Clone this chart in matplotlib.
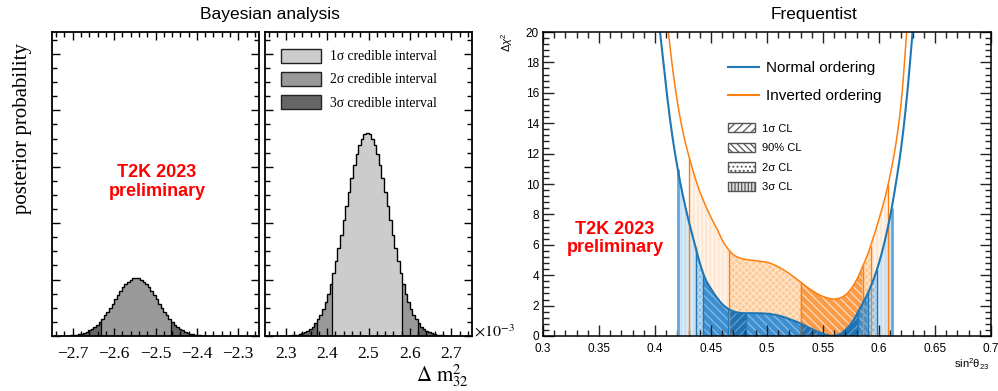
import numpy as np
import matplotlib
matplotlib.use("Agg")
import matplotlib.pyplot as plt
from matplotlib.patches import Patch
from matplotlib.lines import Line2D
from matplotlib.ticker import MultipleLocator, FuncFormatter

plt.rcParams['hatch.linewidth'] = 0.9
plt.rcParams['mathtext.fontset'] = 'custom'
plt.rcParams['mathtext.rm'] = 'Liberation Sans'
plt.rcParams['mathtext.it'] = 'Liberation Sans:italic'
plt.rcParams['mathtext.bf'] = 'Liberation Sans:bold'

SERIF = 'Liberation Serif'
SANS = 'Liberation Sans'

# ---------------- Bayesian posterior of dm2_32 (x1e-3 eV^2) ----------------
BIN_WIDTH = 0.00625
IO_RANGE = (-2.75, -2.25)
NO_RANGE = (2.25, 2.75)

# posterior per bin (arbitrary units x1e-3), inverted ordering
IO_FIRST_BIN = 4
IO_POSTERIOR = [0.03, 0.05, 0.08, 0.11, 0.16, 0.23, 0.31, 0.43, 0.57, 0.76,
                0.99, 1.28, 1.62, 2.03, 2.50, 3.04, 3.64, 4.30, 5.00, 5.74,
                6.49, 7.23, 7.94, 8.60, 9.18, 9.65, 10.01, 10.23, 10.30,
                10.23, 10.01, 9.65, 9.18, 8.60, 7.94, 7.23, 6.49, 5.74, 5.00,
                4.30, 3.64, 3.04, 2.50, 2.03, 1.62, 1.28, 0.99, 0.76, 0.57,
                0.43, 0.31, 0.23, 0.16, 0.11, 0.08, 0.05, 0.03]
# normal ordering
NO_FIRST_BIN = 9
NO_POSTERIOR = [0.07, 0.10, 0.15, 0.23, 0.33, 0.47, 0.66, 0.91, 1.24, 1.68,
                2.23, 2.93, 3.78, 4.83, 6.07, 7.53, 9.21, 11.12, 13.23, 15.52,
                17.96, 20.50, 23.07, 25.61, 28.03, 30.26, 32.21, 33.82, 35.01,
                35.75, 36.00,
                35.75, 35.01, 33.82, 32.21, 30.26, 28.03, 25.61, 23.07, 20.50,
                17.96, 15.52, 13.23, 11.12, 9.21, 7.53, 6.07, 4.83, 3.78, 2.93,
                2.23, 1.68, 1.24, 0.91, 0.66, 0.47, 0.33, 0.23, 0.15, 0.10, 0.07]

NO_1SIGMA = (2.415, 2.583)
NO_2SIGMA = (2.378, 2.618)
IO_1SIGMA = None
IO_2SIGMA = (-2.629, -2.463)

CRED_LABELS = ['1σ credible interval', '2σ credible interval', '3σ credible interval']
GREYS = {1: '#cccccc', 2: '#999999', 3: '#666666'}

# ---------------- Frequentist delta chi2 vs sin2(theta23) ----------------
NO_S2 = [0.4045, 0.410, 0.415, 0.420, 0.425, 0.430, 0.435, 0.440, 0.445, 0.450,
         0.455, 0.460, 0.465, 0.470, 0.475, 0.480, 0.490, 0.500, 0.510, 0.520,
         0.530, 0.540, 0.550, 0.558, 0.565, 0.570, 0.575, 0.580, 0.585, 0.590,
         0.595, 0.600, 0.605, 0.610, 0.615, 0.620, 0.625, 0.630]
NO_DCHI2 = [20.0, 16.3, 13.4, 11.1, 9.2, 7.6, 6.2, 4.8, 3.75, 3.1,
            2.55, 2.1, 1.8, 1.62, 1.53, 1.50, 1.50, 1.47, 1.35, 1.12,
            0.82, 0.45, 0.15, 0.0, 0.12, 0.4, 0.8, 1.4, 2.1, 2.8,
            3.7, 4.8, 6.2, 7.9, 10.0, 12.5, 15.8, 20.0]
IO_S2 = [0.4119, 0.415, 0.420, 0.425, 0.430, 0.435, 0.440, 0.445, 0.450, 0.455,
         0.460, 0.465, 0.470, 0.475, 0.480, 0.490, 0.500, 0.510, 0.520, 0.530,
         0.540, 0.550, 0.560, 0.565, 0.570, 0.575, 0.580, 0.585, 0.590, 0.595,
         0.600, 0.605, 0.610, 0.615, 0.620, 0.6247]
IO_DCHI2 = [20.0, 18.0, 15.4, 13.4, 11.9, 10.6, 9.5, 8.6, 7.8, 7.1,
            6.3, 5.75, 5.35, 5.15, 5.05, 4.95, 4.85, 4.55, 4.1, 3.55,
            3.0, 2.6, 2.43, 2.5, 2.7, 3.1, 3.7, 4.5, 5.4, 6.5,
            7.7, 9.0, 10.6, 12.6, 15.5, 20.0]

# confidence intervals: boundaries and the level of each band between them
NO_BOUNDS = [0.4203, 0.4363, 0.4431, 0.4655, 0.4815, 0.5300, 0.5815, 0.5900, 0.5980, 0.6113]
NO_LEVELS = ['3s', '2s', '90', '1s', '90', '1s', '90', '2s', '3s']
IO_BOUNDS = [0.4306, 0.4661, 0.5300, 0.5855, 0.5926, 0.6083]
IO_LEVELS = ['3s', '2s', '90', '2s', '3s']

CL_LABELS = ['1σ CL', '90% CL', '2σ CL', '3σ CL']

NO_COLOR = '#1f77b4'
IO_COLOR = '#ff7f0e'
NO_STYLE = {'3s': ('#d7e8f6', '#c2dcf1', '||||'),
            '2s': ('#93c2e8', '#c4dff3', 'xxxxx'),
            '90': ('#3d8fd1', '#86bbe5', '\\\\\\\\'),
            '1s': ('#2272b2', '#5f9fd2', '////')}
IO_STYLE = {'3s': ('#fff2e6', '#fde3cb', '||||'),
            '2s': ('#fdca97', '#fee6cd', 'xxxxx'),
            '90': ('#fb9b47', '#fddcbf', '\\\\\\\\')}
LEGEND_STYLE = {'1σ CL': ('white', '////'), '90% CL': ('white', '\\\\\\\\\\'),
                '2σ CL': ('white', '....'), '3σ CL': ('#dddddd', '|||||')}


def smooth_curve(xp, yp, x):
    """Monotone cubic (Fritsch-Carlson) curve through the points."""
    xp = np.asarray(xp, float)
    yp = np.asarray(yp, float)
    h = np.diff(xp)
    d = np.diff(yp) / h
    m = np.zeros_like(yp)
    m[0], m[-1] = d[0], d[-1]
    for i in range(1, len(xp) - 1):
        if d[i - 1] * d[i] <= 0:
            m[i] = 0.0
        else:
            w1 = 2 * h[i] + h[i - 1]
            w2 = h[i] + 2 * h[i - 1]
            m[i] = (w1 + w2) / (w1 / d[i - 1] + w2 / d[i])
    idx = np.clip(np.searchsorted(xp, x) - 1, 0, len(h) - 1)
    t = (x - xp[idx]) / h[idx]
    h00 = 2 * t**3 - 3 * t**2 + 1
    h10 = t**3 - 2 * t**2 + t
    h01 = -2 * t**3 + 3 * t**2
    h11 = t**3 - t**2
    return (h00 * yp[idx] + h10 * h[idx] * m[idx]
            + h01 * yp[idx + 1] + h11 * h[idx] * m[idx + 1])


def draw_posterior(ax, lo, first, vals, s1, s2):
    vals = np.asarray(vals, float)
    edges = lo + BIN_WIDTH * np.arange(first, first + len(vals) + 1)
    centers = 0.5 * (edges[:-1] + edges[1:])
    lev = np.full(len(vals), 3)
    if s2 is not None:
        lev[(centers > s2[0]) & (centers < s2[1])] = 2
    if s1 is not None:
        lev[(centers > s1[0]) & (centers < s1[1])] = 1
    start = 0
    for i in range(1, len(vals) + 1):
        if i == len(vals) or lev[i] != lev[start]:
            ax.stairs(vals[start:i], edges[start:i + 1], fill=True,
                      color=GREYS[lev[start]], linewidth=0)
            if i < len(vals):
                ax.vlines(edges[i], 0, min(vals[i - 1], vals[i]),
                          color='black', lw=0.9)
            start = i
    ax.stairs(vals, edges, color='black', lw=1.0)


fig = plt.figure(figsize=(9.98, 3.91), dpi=100)
W, H = 998.0, 391.0


def axes_px(x0, y0, x1, y1):
    return fig.add_axes([x0 / W, 1 - y1 / H, (x1 - x0) / W, (y1 - y0) / H])


ax_io = axes_px(52, 32, 259, 336)
ax_no = axes_px(265, 32, 472, 336)
ax_fq = axes_px(543, 32, 991, 336)

draw_posterior(ax_io, IO_RANGE[0], IO_FIRST_BIN, IO_POSTERIOR, IO_1SIGMA, IO_2SIGMA)
draw_posterior(ax_no, NO_RANGE[0], NO_FIRST_BIN, NO_POSTERIOR, NO_1SIGMA, NO_2SIGMA)

for ax, rng in ((ax_io, IO_RANGE), (ax_no, NO_RANGE)):
    ax.set_xlim(*rng)
    ax.set_ylim(0, 53.9)
    ax.xaxis.set_major_locator(MultipleLocator(0.1))
    ax.xaxis.set_minor_locator(MultipleLocator(0.02))
    ax.yaxis.set_major_locator(MultipleLocator(10))
    ax.yaxis.set_minor_locator(MultipleLocator(2.5))
    ax.xaxis.set_major_formatter(
        FuncFormatter(lambda v, p: ('%g' % round(v, 2)).replace('-', '\u2212')))
    ax.tick_params(which='both', direction='in', top=True, right=True,
                   labelleft=False, width=1.0, color='black')
    ax.tick_params(which='major', length=6)
    ax.tick_params(which='minor', length=3.5)
    ax.tick_params(axis='x', which='major', pad=7, labelsize=12.5,
                   labelfontfamily=SERIF)
    for sp in ax.spines.values():
        sp.set_linewidth(1.3)

handles = [Patch(facecolor=GREYS[k], edgecolor='#222222', linewidth=1.0) for k in (1, 2, 3)]
ax_no.legend(handles, CRED_LABELS, loc='upper left', bbox_to_anchor=(0.075, 0.944),
             frameon=False, borderpad=0, borderaxespad=0, handlelength=3.0,
             handleheight=1.15, handletextpad=0.6, labelspacing=0.64,
             prop={'family': SERIF, 'size': 9.8})

fig.text(23 / W, 1 - 128 / H, 'posterior probability', rotation=90, ha='center',
         va='center', family=SERIF, fontsize=15)
fig.text(270 / W, 1 - 15 / H, 'Bayesian analysis', ha='center', va='center',
         family=SANS, fontsize=12.5)
fig.text(442 / W, 1 - 376 / H, r'$\Delta\ \mathrm{m}^{2}_{32}$', ha='center',
         va='center', fontsize=15, math_fontfamily='stix')
fig.text(474 / W, 1 - 331 / H, r'$\times10^{-3}$', ha='left', va='center',
         fontsize=11.5, math_fontfamily='stix')
for txt, yy in (('T2K 2023', 173), ('preliminary', 192)):
    fig.text(157 / W, 1 - yy / H, txt, ha='center', va='center', family=SANS,
             fontweight='bold', fontsize=13, color='#ff0000')

# ---------------- frequentist panel ----------------
for s2, chi, bounds, levels, style, color in (
        (IO_S2, IO_DCHI2, IO_BOUNDS, IO_LEVELS, IO_STYLE, IO_COLOR),
        (NO_S2, NO_DCHI2, NO_BOUNDS, NO_LEVELS, NO_STYLE, NO_COLOR)):
    for a, b, lev in zip(bounds[:-1], bounds[1:], levels):
        xs = np.linspace(a, b, 200)
        face, hcol, hatch = style[lev]
        ax_fq.fill_between(xs, 0, smooth_curve(s2, chi, xs), facecolor=face,
                           edgecolor=hcol, hatch=hatch, linewidth=0)
    for j, xb in enumerate(bounds):
        top = float(smooth_curve(s2, chi, np.array([xb]))[0])
        outer = j in (0, len(bounds) - 1)
        if color == NO_COLOR:
            ax_fq.vlines(xb, 0, top, color='#5fa8e2' if outer else NO_COLOR,
                         lw=2.0 if outer else 1.0)
        else:
            ax_fq.vlines(xb, 0, top, color=IO_COLOR, lw=1.0)

xx_io = np.linspace(IO_S2[0], IO_S2[-1], 2000)
xx_no = np.linspace(NO_S2[0], NO_S2[-1], 2000)
ax_fq.plot(xx_io, smooth_curve(IO_S2, IO_DCHI2, xx_io), color=IO_COLOR, lw=1.1)
ax_fq.plot(xx_no, smooth_curve(NO_S2, NO_DCHI2, xx_no), color=NO_COLOR, lw=1.5)

ax_fq.set_xlim(0.3, 0.7)
ax_fq.set_ylim(0, 20)
ax_fq.xaxis.set_major_locator(MultipleLocator(0.05))
ax_fq.xaxis.set_minor_locator(MultipleLocator(0.01))
ax_fq.yaxis.set_major_locator(MultipleLocator(2))
ax_fq.yaxis.set_minor_locator(MultipleLocator(0.4))
ax_fq.xaxis.set_major_formatter(FuncFormatter(lambda v, p: '%g' % round(v, 2)))
ax_fq.tick_params(which='both', direction='in', top=True, right=True,
                  width=1.0, color='#222222', labelsize=8.5,
                  labelfontfamily=SANS)
ax_fq.tick_params(axis='y', which='major', pad=3)
ax_fq.tick_params(axis='x', which='major', pad=5)
ax_fq.tick_params(which='major', length=8)
ax_fq.tick_params(which='minor', length=4)
for sp in ax_fq.spines.values():
    sp.set_linewidth(1.1)

leg1 = ax_fq.legend([Line2D([], [], color=NO_COLOR, lw=1.5),
                     Line2D([], [], color=IO_COLOR, lw=1.5)],
                    ['Normal ordering', 'Inverted ordering'], loc='upper left',
                    bbox_to_anchor=(0.413, 0.905), frameon=False, borderpad=0,
                    borderaxespad=0, handlelength=2.0, handletextpad=0.5,
                    labelspacing=0.95, prop={'family': SANS, 'size': 11})
ax_fq.add_artist(leg1)
cl_handles = [Patch(facecolor=LEGEND_STYLE[k][0], hatch=LEGEND_STYLE[k][1],
                    edgecolor='#555555', linewidth=1.0) for k in CL_LABELS]
ax_fq.legend(cl_handles, CL_LABELS, loc='upper left', bbox_to_anchor=(0.413, 0.70),
             frameon=False, borderpad=0, borderaxespad=0, handlelength=2.45,
             handleheight=0.9, handletextpad=0.6, labelspacing=0.82,
             prop={'family': SANS, 'size': 8})

fig.text(814 / W, 1 - 15 / H, 'Frequentist', ha='center', va='center',
         family=SANS, fontsize=12.5)
fig.text(507 / W, 1 - 32 / H, r'$\Delta\chi^{2}$', rotation=90, ha='center',
         va='top', fontsize=8)
fig.text(990 / W, 1 - 364 / H, r'$\mathrm{sin^{2}\theta_{23}}$', ha='right',
         va='center', fontsize=8)
for txt, yy in (('T2K 2023', 230), ('preliminary', 248)):
    fig.text(615 / W, 1 - yy / H, txt, ha='center', va='center', family=SANS,
             fontweight='bold', fontsize=13, color='#ff0000')

fig.savefig('out.png', dpi=100)
